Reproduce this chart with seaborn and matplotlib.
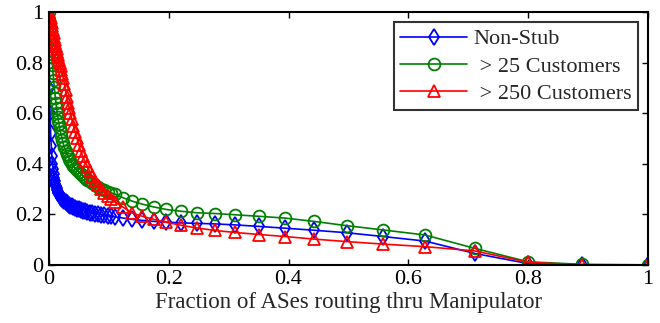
import numpy as np
import pandas as pd
import matplotlib
matplotlib.use("Agg")
import matplotlib.pyplot as plt
import seaborn as sns

# fraction of ASes routing thru manipulator (sample points, dense near 0)
x_vals = [0.0, 0.001, 0.002, 0.003, 0.004, 0.005, 0.006, 0.007, 0.008,
          0.009, 0.010, 0.011, 0.012, 0.013, 0.014, 0.015, 0.016, 0.017, 0.018,
          0.0195, 0.021, 0.0225, 0.024,
          0.026, 0.028, 0.030, 0.032, 0.034, 0.036,
          0.0385, 0.041, 0.044, 0.047, 0.050, 0.053, 0.0565, 0.060, 0.064,
          0.068, 0.0725, 0.077, 0.082, 0.087, 0.0925, 0.098, 0.104, 0.110,
          0.124, 0.139, 0.156, 0.175, 0.196, 0.220, 0.247, 0.277, 0.311, 0.351,
          0.394, 0.442, 0.497, 0.558, 0.628, 0.711, 0.800, 0.890, 1.000]

non_stub = [1.0, 0.70, 0.60, 0.52, 0.47, 0.43, 0.40, 0.38, 0.36,
            0.345, 0.33, 0.32, 0.31, 0.302, 0.295, 0.29, 0.285, 0.28, 0.275,
            0.27, 0.265, 0.26, 0.255,
            0.251, 0.247, 0.243, 0.240, 0.237, 0.234,
            0.231, 0.228, 0.225, 0.222, 0.2195, 0.217, 0.2145, 0.212, 0.2095,
            0.207, 0.205, 0.203, 0.201, 0.199, 0.197, 0.195, 0.1925, 0.190,
            0.185, 0.180, 0.176, 0.172, 0.169, 0.166, 0.164, 0.162, 0.158, 0.152,
            0.145, 0.137, 0.127, 0.112, 0.094, 0.045, 0.005, 0.0, 0.0]

cust_25 = [1.0, 0.97, 0.93, 0.89, 0.85, 0.82, 0.79, 0.76, 0.73,
           0.705, 0.68, 0.66, 0.64, 0.62, 0.60, 0.585, 0.57, 0.555, 0.54,
           0.525, 0.51, 0.495, 0.48,
           0.465, 0.45, 0.44, 0.43, 0.42, 0.41,
           0.40, 0.39, 0.382, 0.375, 0.367, 0.36, 0.352, 0.345, 0.337,
           0.33, 0.322, 0.315, 0.307, 0.30, 0.295, 0.29, 0.285, 0.28,
           0.265, 0.252, 0.240, 0.229, 0.219, 0.212, 0.206, 0.203, 0.198, 0.192,
           0.185, 0.172, 0.155, 0.138, 0.118, 0.065, 0.012, 0.002, 0.0]

cust_250 = [1.0, 0.995, 0.985, 0.975, 0.965, 0.955, 0.945, 0.93, 0.915,
            0.90, 0.89, 0.877, 0.865, 0.852, 0.84, 0.83, 0.82, 0.81, 0.80,
            0.785, 0.77, 0.755, 0.74,
            0.715, 0.69, 0.665, 0.64, 0.62, 0.60,
            0.575, 0.55, 0.525, 0.50, 0.475, 0.45, 0.43, 0.41, 0.39,
            0.37, 0.35, 0.33, 0.315, 0.30, 0.286, 0.272, 0.261, 0.25,
            0.228, 0.205, 0.192, 0.180, 0.168, 0.157, 0.146, 0.136, 0.128, 0.120,
            0.112, 0.102, 0.092, 0.082, 0.072, 0.055, 0.010, 0.0, 0.0]

series = [("Non-Stub", non_stub, "#0000ff", "d"),
          (" > 25 Customers", cust_25, "#008000", "o"),
          (" > 250 Customers", cust_250, "#ff0000", "^")]

sns.set_style("ticks")
plt.rcParams['font.family'] = ['Liberation Serif', 'DejaVu Serif']

fig = plt.figure(figsize=(6.6, 3.23), dpi=100)
ax = fig.add_axes([0.074, 0.18, 0.908, 0.783])

for name, yv, col, mk in series:
    df = pd.DataFrame({"x": x_vals, "y": yv})
    sns.lineplot(data=df, x="x", y="y", ax=ax, color=col, marker=mk,
                 markersize=8.5, markerfacecolor="none", markeredgecolor=col,
                 markeredgewidth=1.3, linewidth=1.2, label=name, sort=False)

ax.set_xlim(0, 1)
ax.set_ylim(0, 1)
ax.set_xticks([0, 0.2, 0.4, 0.6, 0.8, 1])
ax.set_xticklabels(["0", "0.2", "0.4", "0.6", "0.8", "1"])
ax.set_yticks([0, 0.2, 0.4, 0.6, 0.8, 1])
ax.set_yticklabels(["0", "0.2", "0.4", "0.6", "0.8", "1"])
ax.tick_params(direction="in", top=True, right=True, labelsize=16, length=4,
               width=1, colors="black", pad=4)
for sp in ax.spines.values():
    sp.set_visible(True)
    sp.set_linewidth(1.5)
    sp.set_color("black")
ax.set_xlabel("Fraction of ASes routing thru Manipulator", fontsize=16.5, labelpad=2)
ax.set_ylabel("")

leg = ax.legend(loc="upper right", fontsize=16, frameon=True, fancybox=False,
                handlelength=3.0, handletextpad=0.3, borderpad=0.3,
                labelspacing=0.3, borderaxespad=0.0,
                bbox_to_anchor=(0.983, 0.96))
leg.get_frame().set_edgecolor("black")
leg.get_frame().set_linewidth(1.5)

fig.savefig("out.png", dpi=100)
